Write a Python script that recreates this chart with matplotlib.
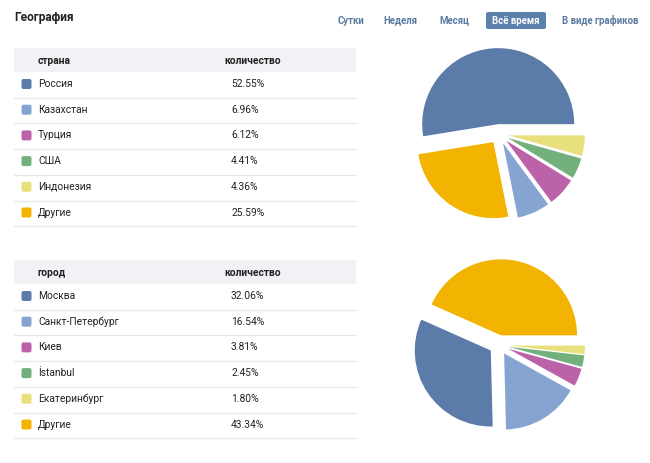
import matplotlib
matplotlib.use("Agg")
import matplotlib.pyplot as plt
from matplotlib.patches import Rectangle, FancyBboxPatch

plt.rcParams['font.family'] = ['Roboto', 'DejaVu Sans']

# Data
title = "География"
tabs = ["Сутки", "Неделя", "Месяц", "Всё время", "В виде графиков"]
active_tab = "Всё время"

country_header = "страна"
countries = ["Россия", "Казахстан", "Турция", "США", "Индонезия", "Другие"]
country_share = [52.55, 6.96, 6.12, 4.41, 4.36, 25.59]

city_header = "город"
cities = ["Москва", "Санкт-Петербург", "Киев", "İstanbul", "Екатеринбург", "Другие"]
city_share = [32.06, 16.54, 3.81, 2.45, 1.80, 43.34]

value_header = "количество"
colors = ['#5b7ba8', '#86a4d1', '#bb62a9', '#72b07c', '#e8e07c', '#f3b401']

W, H = 650, 463
fig = plt.figure(figsize=(W / 100, H / 100), dpi=100)
bg = fig.add_axes([0, 0, 1, 1])
bg.set_xlim(0, W)
bg.set_ylim(H, 0)
bg.axis('off')

# header line
bg.text(14, 18, title, fontsize=8.6, fontweight='bold', color='#222222', va='center')
tab_x = [338, 383, 439, 492, 562]
for tx, name in zip(tab_x, tabs):
    if name == active_tab:
        bg.add_patch(FancyBboxPatch((486, 12), 60, 17, boxstyle="round,pad=0,rounding_size=2",
                                    facecolor='#5b80ab', edgecolor='none'))
        bg.text(516, 20.5, name, fontsize=6.9, fontweight='bold', color='white',
                ha='center', va='center')
    else:
        bg.text(tx, 20.5, name, fontsize=6.9, fontweight='bold', color='#5a7aa0', va='center')


def draw_table(top, header, names, shares):
    bg.add_patch(Rectangle((14, top), 342, 24, facecolor='#f0f2f5', edgecolor='none'))
    bg.text(38, top + 12.5, header, fontsize=7.4, fontweight='bold', color='#222222', va='center')
    bg.text(224, top + 12.5, value_header, fontsize=7.4, fontweight='bold', color='#222222', va='center')
    row_h = 25.7
    for i, (name, val) in enumerate(zip(names, shares)):
        yc = top + 24 + row_h * i + 12
        bg.add_patch(FancyBboxPatch((21.5, yc - 5), 10, 10, boxstyle="round,pad=0,rounding_size=2",
                                    facecolor=colors[i], edgecolor='none'))
        bg.text(38, yc, name, fontsize=7.4, color='#222222', va='center')
        bg.text(231, yc, f"{val:.2f}%", fontsize=7.4, color='#222222', va='center')
        ly = top + 24 + row_h * (i + 1)
        bg.plot([14, 356], [ly, ly], color='#e7e8ec', lw=0.9)


def draw_pie(cy, shares):
    order = sorted(range(len(shares)), key=lambda k: -shares[k])
    size = 190
    ax = fig.add_axes([(499 - size / 2) / W, (H - cy - size / 2) / H, size / W, size / H])
    ax.pie([shares[k] for k in order], colors=[colors[k] for k in order],
           explode=[0.13] * len(order), startangle=0, counterclock=True,
           wedgeprops=dict(linewidth=0))
    ax.set_xlim(-1.25, 1.25)
    ax.set_ylim(-1.25, 1.25)
    ax.set_aspect('equal')
    ax.axis('off')


draw_table(48, country_header, countries, country_share)
draw_table(260, city_header, cities, city_share)
draw_pie(134, country_share)
draw_pie(345, city_share)

fig.savefig("out.png", dpi=100)
